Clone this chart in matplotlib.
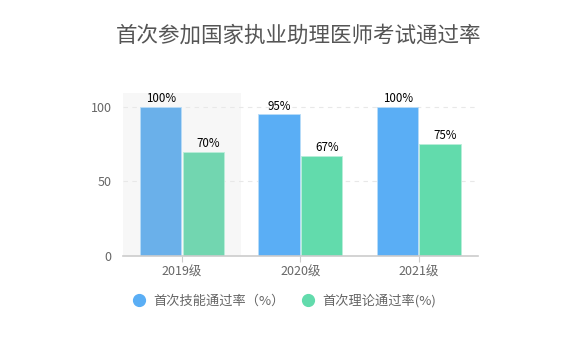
import numpy as np
import matplotlib.pyplot as plt
from matplotlib.lines import Line2D

plt.rcParams['font.family'] = ['Noto Sans CJK SC', 'DejaVu Sans']

# data
grades = ['2019级', '2020级', '2021级']
skill_rate = [100, 95, 100]
theory_rate = [70, 67, 75]
labels = ['首次技能通过率（%）', '首次理论通过率(%)']

blue = '#5aaef5'
green = '#62dbac'

fig = plt.figure(figsize=(5.69, 3.44), dpi=100)
ax = fig.add_axes([0.216, 0.256, 0.624, 0.474])

x = np.arange(len(grades))
w = 0.35
ax.set_xlim(-0.5, len(grades) - 0.5)
ax.set_ylim(0, 109.5)

# hover highlight on first category
ax.axvspan(-0.5, 0.5, color='#f7f7f7', zorder=0, lw=0)

for i in x:
    cb = '#6ab0ea' if i == 0 else blue
    cg = '#72d6b0' if i == 0 else green
    ax.bar(i - w / 2 - 0.005, skill_rate[i], w, color=cb, edgecolor='#b8dcf8', lw=0.6, zorder=2)
    ax.bar(i + w / 2 + 0.005, theory_rate[i], w, color=cg, edgecolor='#b9eed9', lw=0.6, zorder=2)
    ax.text(i - w / 2, skill_rate[i] + 1.2, f'{skill_rate[i]}%', ha='center', va='bottom', fontsize=8.3, color='black')
    ax.text(i + w / 2 + 0.05, theory_rate[i] + 1.2, f'{theory_rate[i]}%', ha='center', va='bottom', fontsize=8.3, color='black')

for yv in [50, 100]:
    ax.axhline(yv, color='#e8e8e8', lw=0.8, ls=(0, (4, 4)), zorder=1)

for s in ['top', 'right', 'left']:
    ax.spines[s].set_visible(False)
ax.spines['bottom'].set_color('#cccccc')
ax.spines['bottom'].set_linewidth(1.2)

ax.set_yticks([0, 50, 100])
ax.tick_params(axis='y', length=0, labelsize=9, labelcolor='#666666', pad=8)
ax.set_xticks(x)
ax.set_xticklabels(grades)
ax.tick_params(axis='x', length=4, color='#cccccc', labelsize=9, labelcolor='#666666', pad=3)

fig.text(0.525, 0.895, '首次参加国家执业助理医师考试通过率', ha='center', va='center', fontsize=15.5, color='#555555')

handles = [Line2D([], [], marker='o', ls='', color=blue, markersize=8.5),
           Line2D([], [], marker='o', ls='', color=green, markersize=8.5)]
fig.legend(handles, labels, loc='center', bbox_to_anchor=(0.494, 0.125), ncol=2, frameon=False,
           fontsize=9.5, labelcolor='#666666', handletextpad=0.05, columnspacing=0.8)

fig.savefig('out.png', dpi=100)
